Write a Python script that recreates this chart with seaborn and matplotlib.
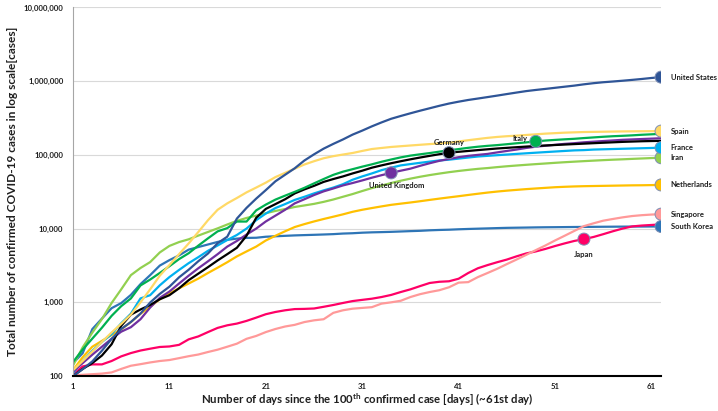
import matplotlib
matplotlib.use("Agg")
import matplotlib.pyplot as plt
from matplotlib.ticker import FixedLocator, FuncFormatter, NullLocator
import numpy as np
import pandas as pd
import seaborn as sns

# days since the 100th confirmed case
days = list(range(1, 63))

us = [100, 124, 158, 221, 319, 435, 541, 704, 994, 1301,
      1630, 2183, 2770, 3613, 4596, 6344, 7769, 13680, 19101, 25493,
      33276, 43847, 53740, 65778, 83836, 101657, 121478, 140886, 161807, 188172,
      213242, 243622, 275367, 308650, 336802, 366317, 397121, 428654, 462780, 496535,
      526396, 555313, 580619, 607670, 636350, 667801, 699706, 732197, 759086, 784326,
      811865, 840351, 869170, 905358, 938154, 965785, 988197, 1012582, 1039909, 1069424,
      1103461, 1132539]
spain = [120, 160, 215, 290, 390, 510, 680, 1000, 1500, 2300,
         3200, 4500, 6300, 9000, 13000, 18000, 22000, 26000, 31000, 36000,
         42000, 50000, 57000, 65000, 74000, 82000, 90000, 96000, 101000, 106000,
         113000, 120000, 124000, 128000, 131000, 134000, 137000, 140000, 143000, 146000,
         152000, 158000, 164000, 170000, 175000, 179000, 182000, 186000, 190000, 194000,
         197000, 200000, 202000, 204000, 205000, 206000, 207000, 208000, 208500, 209000,
         209500, 210000]
italy = [155, 229, 322, 453, 655, 888, 1128, 1694, 2036, 2502,
         3089, 3858, 4636, 5883, 7375, 9172, 10149, 12462, 12462, 17660,
         21157, 24747, 27980, 31506, 35713, 41035, 47021, 53578, 59138, 63927,
         69176, 74386, 80589, 86498, 92472, 97689, 101739, 105792, 110574, 115242,
         119827, 124632, 128948, 132547, 135586, 139422, 143626, 147577, 152271, 156363,
         159516, 162488, 165155, 168941, 172434, 175925, 178972, 181228, 183957, 187327,
         189973, 192994]
germany = [100, 125, 150, 190, 270, 480, 680, 800, 920, 1100,
           1250, 1550, 2000, 2450, 3000, 3700, 4500, 5500, 8000, 14000,
           18500, 21500, 25000, 30000, 34000, 38000, 43000, 47000, 51000, 56000,
           61000, 67000, 72000, 77000, 82000, 87000, 92000, 97000, 102000, 107000,
           110000, 113000, 116000, 119000, 122000, 124500, 127000, 129500, 132000, 134000,
           136000, 138000, 140000, 142000, 144000, 146000, 148000, 150000, 151500, 153000,
           154000, 155000]
france = [110, 160, 220, 290, 370, 520, 700, 1130, 1250, 1700,
          2200, 2750, 3400, 4100, 5000, 5900, 7000, 8200, 10000, 13000,
          16000, 19000, 21500, 24500, 27000, 30000, 33000, 36000, 40000, 46000,
          51000, 56000, 62000, 67000, 72000, 75000, 78000, 81000, 84000, 86000,
          89000, 92000, 95000, 97000, 99000, 101000, 103000, 105000, 107000, 109000,
          111000, 113000, 115000, 116000, 118000, 119000, 120000, 121000, 122000, 123000,
          124000, 125000]
uk = [115, 150, 195, 250, 320, 400, 460, 590, 850, 1150,
      1400, 1800, 2300, 2900, 3600, 4500, 5700, 6800, 8300, 10000,
      12500, 15000, 18000, 22000, 25000, 28500, 32000, 35000, 38500, 41500,
      45000, 49000, 53000, 57000, 61000, 65000, 71000, 77000, 83000, 88000,
      93000, 97000, 100000, 103000, 108000, 113000, 118000, 124000, 129000, 133000,
      137000, 141000, 144000, 148000, 151000, 154000, 157000, 160000, 162000, 164000,
      166000, 168000]
iran = [139, 245, 388, 593, 978, 1501, 2336, 2922, 3513, 4747,
        5823, 6566, 7161, 8042, 9000, 10075, 11364, 12729, 13938, 14991,
        16169, 17361, 18407, 19644, 20610, 21638, 23049, 24811, 27017, 29406,
        32332, 35408, 38309, 41495, 44605, 47593, 50468, 53183, 55743, 58226,
        60500, 62589, 64586, 66220, 68192, 70029, 71686, 73303, 74877, 76389,
        77995, 79494, 80868, 82211, 83505, 84802, 85996, 87026, 88194, 89328,
        90481, 91472]
netherlands = [120, 180, 250, 300, 360, 430, 540, 700, 870, 1100,
               1320, 1550, 1800, 2100, 2500, 2950, 3500, 4200, 4900, 5700,
               6900, 8000, 9200, 10500, 11500, 12500, 13500, 14500, 15600, 16900,
               18000, 19000, 20000, 21000, 21800, 22600, 23500, 24500, 25500, 26500,
               27500, 28600, 29700, 30800, 31800, 32700, 33500, 34300, 35000, 35700,
               36400, 36900, 37300, 37600, 37800, 38000, 38200, 38400, 38600, 38700,
               38900, 39100]
singapore = [102, 104, 106, 108, 112, 125, 138, 145, 153, 160,
             165, 175, 186, 196, 212, 228, 250, 275, 320, 350,
             395, 435, 470, 495, 540, 570, 590, 720, 780, 820,
             840, 860, 960, 1000, 1050, 1180, 1290, 1380, 1460, 1600,
             1850, 1880, 2200, 2500, 2850, 3300, 3800, 4400, 5100, 5900,
             6900, 8000, 9300, 10800, 11800, 12800, 13500, 14200, 14800, 15200,
             15500, 15700]
south_korea = [150, 204, 433, 602, 833, 977, 1261, 1766, 2337, 3150,
               3736, 4335, 5186, 5621, 6088, 6593, 7041, 7314, 7478, 7513,
               7755, 7869, 7979, 8086, 8162, 8236, 8320, 8413, 8565, 8652,
               8799, 8897, 8961, 9037, 9137, 9241, 9332, 9478, 9583, 9661,
               9786, 9887, 9976, 10062, 10156, 10237, 10284, 10331, 10384, 10423,
               10450, 10480, 10512, 10537, 10564, 10591, 10613, 10635, 10653, 10661,
               10674, 10683]
japan = [105, 135, 144, 144, 160, 185, 205, 222, 235, 248,
         252, 265, 315, 345, 395, 450, 488, 515, 560, 620,
         690, 740, 780, 810, 815, 825, 870, 920, 980, 1040,
         1080, 1120, 1180, 1260, 1380, 1500, 1660, 1830, 1900, 1930,
         2090, 2500, 2900, 3200, 3500, 3800, 4200, 4600, 4900, 5300,
         5800, 6300, 6800, 7200, 7700, 8400, 9200, 10000, 10700, 11000,
         11200, 11400]

countries = ["South Korea", "Japan", "Singapore", "Netherlands", "Iran", "France",
             "United Kingdom", "Germany", "Italy", "Spain", "United States"]
series = [south_korea, japan, singapore, netherlands, iran, france,
          uk, germany, italy, spain, us]
palette = {
    "United States": "#2F5597",
    "Spain": "#FFD966",
    "Italy": "#00B050",
    "Germany": "#000000",
    "France": "#00B0F0",
    "United Kingdom": "#7030A0",
    "Iran": "#92D050",
    "Netherlands": "#FFC000",
    "Singapore": "#FF9999",
    "South Korea": "#2E75B6",
    "Japan": "#FF0066",
}

# where the round markers sit (day of marker) and how the name is placed
end_labels = ["United States", "Spain", "France", "Iran", "Netherlands",
              "Singapore", "South Korea"]
mid_labels = {"Germany": 40, "Italy": 49, "United Kingdom": 34, "Japan": 54}

df = pd.DataFrame({
    "day": days * len(countries),
    "cases": [v for s in series for v in s],
    "country": np.repeat(countries, len(days)),
})

sns.set_theme(style="white")
plt.rcParams["font.family"] = ["Lato", "DejaVu Sans"]
plt.rcParams["mathtext.fontset"] = "custom"
plt.rcParams["mathtext.rm"] = "Lato"
plt.rcParams["mathtext.bf"] = "Lato:bold"

fig = plt.figure(figsize=(7.18, 4.11), dpi=100)
ax = fig.add_axes([0.1017, 0.085, 0.8190, 0.897])

sns.lineplot(data=df, x="day", y="cases", hue="country", hue_order=countries,
             palette=palette, linewidth=1.6, legend=False, ax=ax)

# markers
pts = []
for c, s in zip(countries, series):
    if c in end_labels:
        pts.append((c, days[-1], s[-1]))
    elif c in mid_labels:
        d = mid_labels[c]
        pts.append((c, d, s[d - 1]))
mk = pd.DataFrame(pts, columns=["country", "day", "cases"])
sns.scatterplot(data=mk, x="day", y="cases", hue="country", palette=palette,
                s=75, edgecolor="#7F8FB5", linewidth=0.7, legend=False,
                ax=ax, zorder=5)

lab_kw = dict(textcoords="offset points", fontsize=5.5, fontweight="bold",
              color="#1F1F1F", zorder=6)
for c, d, v in pts:
    if c in end_labels:
        ax.annotate(c, (d, v), xytext=(7, 0), ha="left", va="center", **lab_kw)
    elif c == "Germany":
        ax.annotate(c, (d, v), xytext=(0, 7), ha="center", va="center", **lab_kw)
    elif c == "Italy":
        ax.annotate(c, (d, v), xytext=(-6, 2), ha="right", va="center", **lab_kw)
    elif c == "United Kingdom":
        ax.annotate(c, (d, v), xytext=(4, -9), ha="center", va="center", **lab_kw)
    elif c == "Japan":
        ax.annotate(c, (d, v), xytext=(0, -11), ha="center", va="center", **lab_kw)

ax.set_yscale("log")
ax.set_ylim(100, 1e7)
ax.set_xlim(1, 62)
ax.xaxis.set_major_locator(FixedLocator([1, 11, 21, 31, 41, 51, 61]))
ax.yaxis.set_major_locator(FixedLocator([1e2, 1e3, 1e4, 1e5, 1e6, 1e7]))
ax.yaxis.set_minor_locator(NullLocator())
ax.yaxis.set_major_formatter(FuncFormatter(lambda v, p: f"{int(v):,}"))

ax.grid(axis="y", color="#D9D9D9", linewidth=0.8)
ax.grid(axis="x", visible=False)
ax.set_axisbelow(True)
for side in ["top", "right"]:
    ax.spines[side].set_visible(False)
ax.spines["left"].set_color("#A6A6A6")
ax.spines["left"].set_linewidth(0.8)
ax.spines["bottom"].set_color("#000000")
ax.spines["bottom"].set_linewidth(1.5)
ax.tick_params(axis="both", length=0, labelsize=5.6, colors="#1F1F1F")
ax.tick_params(axis="y", pad=7)
ax.tick_params(axis="x", pad=5)
for t in ax.get_xticklabels() + ax.get_yticklabels():
    t.set_fontweight("bold")

ax.set_ylabel("Total number of confirmed COVID-19 cases in log scale[cases]",
              fontsize=8.6, fontweight="bold", color="#1F1F1F", labelpad=4)
ax.set_xlabel("Number of days since the 100$^{\\mathbf{th}}$ confirmed case [days] (~61st day)",
              fontsize=8.2, fontweight="bold", color="#1F1F1F", labelpad=1)

fig.savefig("out.png", dpi=100)
